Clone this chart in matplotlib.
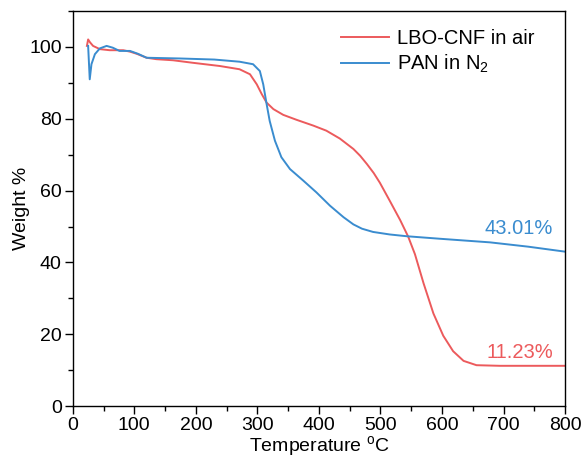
import numpy as np
import matplotlib
matplotlib.use("Agg")
from matplotlib import pyplot as plt
from matplotlib.ticker import MultipleLocator

# data
t_air = [23, 25, 28, 33, 44, 60, 82, 93, 104, 120, 136, 163, 195, 239, 271, 288,
         299, 307, 315, 326, 342, 364, 391, 412, 434, 456, 467, 478, 489, 499, 515,
         532, 545, 556, 570, 586, 602, 618, 635, 656, 694, 740, 800]
w_air = [100.3, 102.1, 101.3, 100.3, 99.4, 99.1, 99.1, 98.7, 98.1, 97.0, 96.6, 96.3,
         95.6, 94.7, 93.8, 92.4, 89.6, 86.9, 84.5, 82.7, 81.1, 79.7, 78.1, 76.7, 74.5,
         71.6, 69.7, 67.4, 64.9, 62.2, 57.2, 51.8, 47.2, 42.3, 34.2, 25.8, 19.6, 15.3,
         12.6, 11.4, 11.23, 11.23, 11.23]

t_n2 = [25, 27.6, 30.4, 36, 44, 55, 65, 76, 93, 106, 120, 174, 230, 271, 293, 304,
        309.5, 315, 320, 328.5, 339, 353, 374.5, 396, 418, 440, 456, 470, 488, 515,
        543, 597, 678, 740, 800]
w_n2 = [100.3, 91.0, 95.2, 98.0, 99.6, 100.3, 99.8, 98.9, 98.9, 98.1, 97.0, 96.8,
        96.5, 95.9, 95.2, 93.3, 89.6, 84.1, 79.4, 73.9, 69.3, 66.0, 62.8, 59.5, 55.8,
        52.6, 50.6, 49.4, 48.5, 47.8, 47.3, 46.6, 45.6, 44.4, 43.01]

red = '#ec5a5c'
blue = '#3a8ccf'

plt.rcParams['font.family'] = ['Liberation Sans', 'DejaVu Sans']
plt.rcParams['font.size'] = 14
plt.rcParams['mathtext.fontset'] = 'custom'
plt.rcParams['mathtext.rm'] = 'Liberation Sans'

fig = plt.figure(figsize=(5.82, 4.61), dpi=100)
ax = fig.add_axes([0.125, 0.119, 0.846, 0.857])

ax.plot(t_air, w_air, c=red, lw=1.4, label='LBO-CNF in air')
ax.plot(t_n2, w_n2, c=blue, lw=1.4, label='PAN in N$_2$')

ax.set_xlim(0, 800)
ax.set_ylim(0, 110)
ax.xaxis.set_major_locator(MultipleLocator(100))
ax.xaxis.set_minor_locator(MultipleLocator(50))
ax.yaxis.set_major_locator(MultipleLocator(20))
ax.yaxis.set_minor_locator(MultipleLocator(10))
ax.tick_params(which='both', direction='out', width=1.0, top=False, right=False)
ax.tick_params(which='major', length=6, labelsize=14, pad=2)
ax.tick_params(which='minor', length=3.5)
for s in ax.spines.values():
    s.set_linewidth(1.0)

ax.set_xlabel('Temperature $^{\\mathrm{o}}$C', labelpad=0)
ax.set_ylabel('Weight %', labelpad=-1)

ax.text(780, 49.5, '43.01%', color=blue, ha='right', va='center', fontsize=14.5)
ax.text(780, 15, '11.23%', color=red, ha='right', va='center', fontsize=14.5)

ax.legend(loc='upper left', bbox_to_anchor=(0.545, 0.955), frameon=False,
          handlelength=2.4, handletextpad=0.4, labelspacing=0.25,
          borderpad=0, borderaxespad=0, fontsize=14.5)

fig.savefig('out.png', dpi=100)
